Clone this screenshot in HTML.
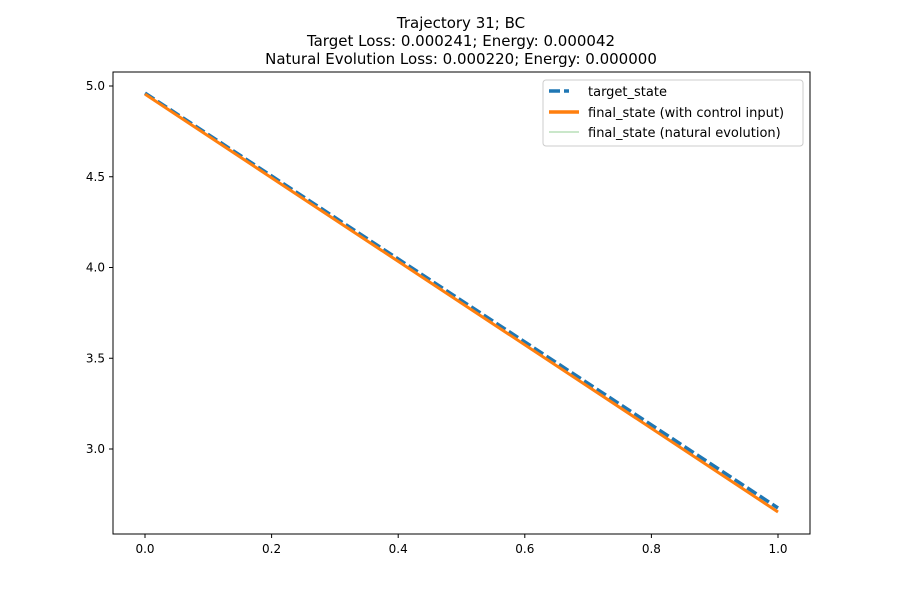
<!DOCTYPE html>
<html><head><meta charset="utf-8"><style>
body{margin:0;background:#fff;font-family:"Liberation Sans","DejaVu Sans",sans-serif;}
svg text{font-family:"DejaVu Sans","Liberation Sans",sans-serif;}
</style></head><body>
<svg id="chart" width="900" height="600" xmlns="http://www.w3.org/2000/svg">
<rect width="900" height="600" fill="#fff"/>
<g font-size="15" text-anchor="middle" fill="#000">
<text x="461" y="28">Trajectory 31; BC</text>
<text x="461" y="46">Target Loss: 0.000241; Energy: 0.000042</text>
<text x="461" y="64">Natural Evolution Loss: 0.000220; Energy: 0.000000</text>
</g>
<g id="plot"></g>
<rect x="113" y="72" width="697" height="462" fill="none" stroke="#000" stroke-width="1"/>
<g>
<rect x="543" y="80" width="260" height="66" fill="#fff" stroke="#ccc" rx="3"/>
<line x1="549" y1="91" x2="564" y2="91" stroke="#1f77b4" stroke-width="3.5" stroke-dasharray="11,4"/>
<line x1="564" y1="91" x2="580" y2="91" stroke="#1f77b4" stroke-width="3.5" stroke-dasharray="5,20"/>
<text x="588" y="96" font-size="13">target_state</text>
<line x1="549" y1="112" x2="579" y2="112" stroke="#ff7f0e" stroke-width="3.5"/>
<text x="588" y="117" font-size="13">final_state (with control input)</text>
<line x1="549" y1="132" x2="579" y2="132" stroke="#2ca02c" stroke-opacity="0.5" stroke-width="1"/>
<text x="588" y="137" font-size="13">final_state (natural evolution)</text>
</g>
</svg>
<script>
const xs = [0, 0.25, 0.5, 0.75, 1.0];
const targetState = [4.961, 4.390, 3.818, 3.247, 2.675];
const finalControl = [4.955, 4.379, 3.804, 3.229, 2.653];
const finalNatural = [4.955, 4.380, 3.805, 3.230, 2.655];
const xTicks = [0.0, 0.2, 0.4, 0.6, 0.8, 1.0];
const yTicks = [3.0, 3.5, 4.0, 4.5, 5.0];

const X = v => 145 + v * 633;
const Y = v => 449 - (v - 3.0) * 181.5;
const NS = "http://www.w3.org/2000/svg";
const g = document.getElementById('plot');
function mk(tag, attrs){const e=document.createElementNS(NS,tag);for(const k in attrs)e.setAttribute(k,attrs[k]);g.appendChild(e);return e;}

xTicks.forEach(t=>{
  const l=mk('line',{x1:X(t),x2:X(t),y1:534,y2:538,stroke:'#000'});
  
  
  const tx=mk('text',{x:X(t),y:553,'font-size':12,'text-anchor':'middle'});
  tx.textContent=t.toFixed(1);
  
  
});
yTicks.forEach(t=>{
  const l=mk('line',{x1:109,x2:113,y1:Y(t),y2:Y(t),stroke:'#000'});
  
  
  const tx=mk('text',{x:105,y:Y(t)+4,'font-size':12,'text-anchor':'end'});
  tx.textContent=t.toFixed(1);
  
  
});
function pts(ys){return xs.map((x,i)=>X(x)+','+Y(ys[i])).join(' ');}
const n=mk('polyline',{points:pts(finalNatural),fill:'none',stroke:'#2ca02c','stroke-opacity':0.5,'stroke-width':1});


const t=mk('polyline',{points:pts(targetState),fill:'none',stroke:'#1f77b4','stroke-width':3.5,'stroke-dasharray':'11,4'});


const c=mk('polyline',{points:pts(finalControl),fill:'none',stroke:'#ff7f0e','stroke-width':3});


</script>
</body></html>
